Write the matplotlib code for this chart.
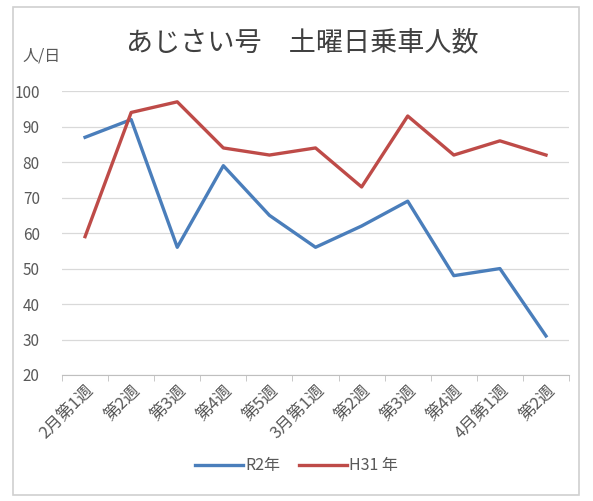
import matplotlib.pyplot as plt
from matplotlib.patches import Rectangle

plt.rcParams['font.family'] = ['Noto Sans CJK JP', 'DejaVu Sans']

weeks = ['2月第1週', '第2週', '第3週', '第4週', '第5週', '3月第1週',
         '第2週', '第3週', '第4週', '4月第1週', '第2週']
r2 = [87, 92, 56, 79, 65, 56, 62, 69, 48, 50, 31]
h31 = [59, 94, 97, 84, 82, 84, 73, 93, 82, 86, 82]
y_ticks = [20, 30, 40, 50, 60, 70, 80, 90, 100]

fig = plt.figure(figsize=(5.93, 5.01), dpi=100)
ax = fig.add_axes([0.1046, 0.2515, 0.855, 0.5665])

x = list(range(len(weeks)))
ax.plot(x, r2, color='#4A7EBB', lw=2.4, label='R2年', solid_joinstyle='round')
ax.plot(x, h31, color='#BE4B48', lw=2.4, label='H31 年', solid_joinstyle='round')

ax.set_xlim(-0.5, len(weeks) - 0.5)
ax.set_ylim(20, 100)
ax.set_yticks(y_ticks)
ax.set_xticks(x)
ax.set_xticklabels(weeks, rotation=45, ha='right', rotation_mode='anchor',
                   fontsize=12, color='#595959')
ax.set_xticks([i - 0.5 for i in range(len(weeks) + 1)], minor=True)
ax.tick_params(axis='x', which='major', length=0, pad=5)
ax.tick_params(axis='x', which='minor', length=4, color='#BFBFBF')
ax.tick_params(axis='y', length=0, labelsize=11, labelcolor='#595959', pad=16)
ax.grid(axis='y', color='#D9D9D9', lw=0.9)
ax.set_axisbelow(True)
for s in ['left', 'right', 'top']:
    ax.spines[s].set_visible(False)
ax.spines['bottom'].set_color('#BFBFBF')

fig.text(0.51, 0.915, 'あじさい号　土曜日乗車人数', ha='center', va='center',
         fontsize=19.5, color='#404040')
fig.text(0.038, 0.888, '人/日', ha='left', va='center', fontsize=11.5, color='#595959')

fig.legend(loc='center', bbox_to_anchor=(0.5, 0.07), ncol=2, frameon=False,
           fontsize=11.5, handlelength=3.0, handletextpad=0.1, columnspacing=1.2,
           labelcolor='#595959')

fig.patches.append(Rectangle((0.022, 0.012), 0.955, 0.975, transform=fig.transFigure,
                             fill=False, edgecolor='#D0D0D0', lw=1.2))

fig.savefig('out.png', dpi=100)
